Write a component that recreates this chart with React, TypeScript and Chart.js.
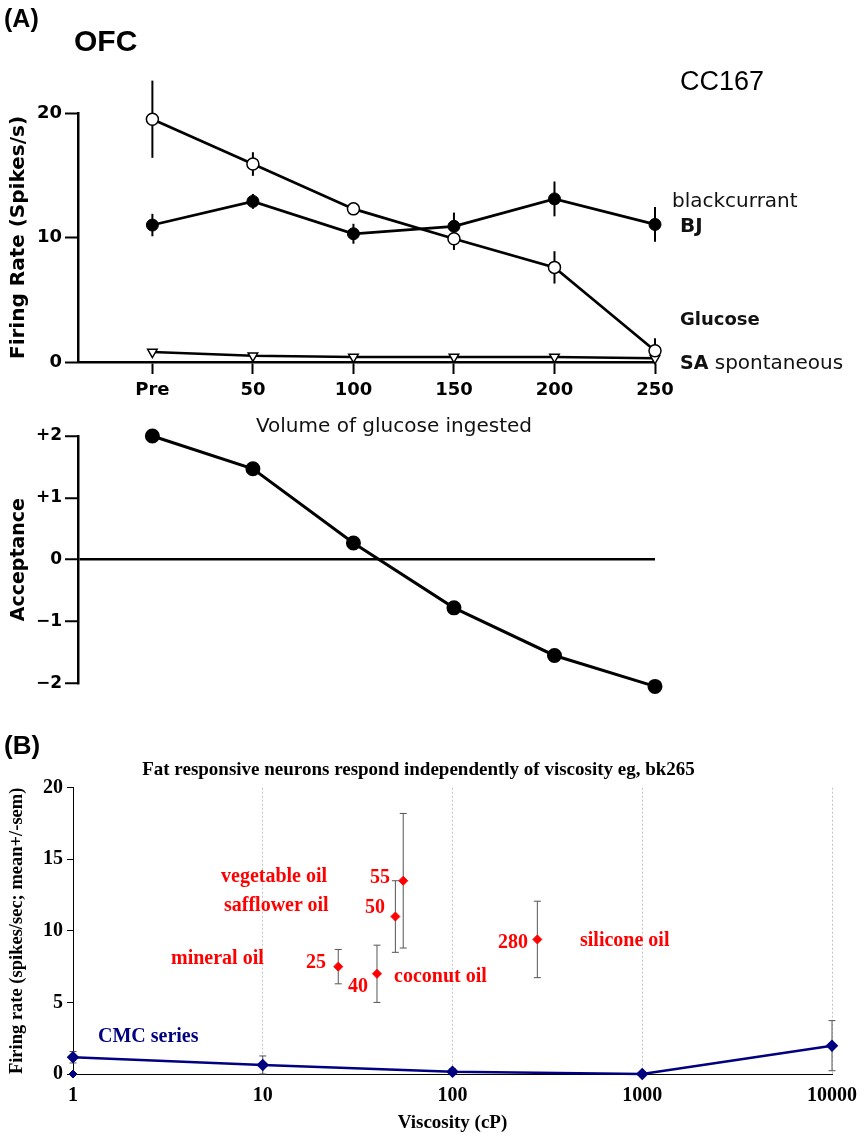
import React, { useEffect, useRef } from 'react';
import { Chart, registerables } from 'chart.js';

Chart.register(...registerables);

// ---------- Panel A data ----------
const volumeLabels = ['Pre', '50', '100', '150', '200', '250'];
const volumePositions = [0, 50, 100, 150, 200, 250];
const glucoseRate = [19.5, 15.9, 12.3, 9.9, 7.6, 0.9];
const glucoseSem = [3.1, 0.95, 0.5, 0.9, 1.3, 1.0];
const blackcurrantRate = [11.0, 12.9, 10.3, 10.9, 13.1, 11.05];
const blackcurrantSem = [0.9, 0.6, 0.8, 1.1, 1.4, 1.4];
const spontaneousRate = [0.8, 0.5, 0.4, 0.4, 0.4, 0.3];
const acceptanceScore = [2.0, 1.47, 0.27, -0.78, -1.55, -2.05];
const firingTicks = [0, 10, 20];
const acceptanceTicks = [-2, -1, 0, 1, 2];

// ---------- Panel B data ----------
const oilViscosity = [25, 40, 50, 55, 280];
const oilRate = [7.5, 7.0, 11.0, 13.5, 9.4];
const oilSem = [1.2, 2.0, 2.5, 4.7, 2.67];
const cmcViscosity = [1, 10, 100, 1000, 10000];
const cmcRate = [1.17, 0.63, 0.16, 0.0, 1.98];
const cmcSem = [0.4, 0.63, 0.2, 0, 1.75];
const baselineViscosity = [1];
const baselineRate = [0];
const viscosityTicks = [1, 10, 100, 1000, 10000];
const rateTicksB = [0, 5, 10, 15, 20];

const errorBarPlugin = {
  id: 'errorBars',
  beforeDatasetsDraw(chart: any) {
    const ctx = chart.ctx;
    chart.data.datasets.forEach((ds: any, i: number) => {
      const errs = ds.errorBars;
      if (!errs) return;
      const meta = chart.getDatasetMeta(i);
      const xs = chart.scales[meta.xAxisID];
      const ys = chart.scales[meta.yAxisID];
      const cap = ds.errorCap || 0;
      ctx.save();
      ctx.strokeStyle = ds.errorColor || '#000';
      ctx.lineWidth = ds.errorWidth || 1;
      ds.data.forEach((p: any, j: number) => {
        const e = errs[j];
        if (!e) return;
        const x = xs.getPixelForValue(p.x);
        const y1 = ys.getPixelForValue(p.y + e);
        const y2 = ys.getPixelForValue(p.y - e);
        ctx.beginPath();
        ctx.moveTo(x, y1);
        ctx.lineTo(x, y2);
        if (cap) {
          ctx.moveTo(x - cap, y1);
          ctx.lineTo(x + cap, y1);
          ctx.moveTo(x - cap, y2);
          ctx.lineTo(x + cap, y2);
        }
        ctx.stroke();
      });
      ctx.restore();
    });
  },
};

const sans = 'DejaVu Sans';
const serif = 'Liberation Serif';

function pts(xs: number[], ys: number[]) {
  return xs.map((x, i) => ({ x, y: ys[i] }));
}

function Label(props: any) {
  const { x, y, children, style, center } = props;
  return (
    <div
      style={{
        position: 'absolute',
        left: x,
        top: y,
        transform: center ? 'translate(-50%, -50%)' : 'translateY(-50%)',
        lineHeight: 1,
        whiteSpace: 'nowrap',
        ...style,
      }}
    >
      {children}
    </div>
  );
}

export default function App() {
  const c1 = useRef<HTMLCanvasElement>(null);
  const c2 = useRef<HTMLCanvasElement>(null);
  const c3 = useRef<HTMLCanvasElement>(null);

  useEffect(() => {
    const black = '#000';
    const tickFontA = { family: sans, size: 18, weight: 'bold' as const };

    const top = new Chart(c1.current as HTMLCanvasElement, {
      type: 'line',
      data: {
        datasets: [
          {
            label: 'Glucose',
            data: pts(volumePositions, glucoseRate),
            borderColor: black,
            borderWidth: 2.7,
            pointStyle: 'circle',
            pointRadius: 6,
            pointBackgroundColor: '#fff',
            pointBorderColor: black,
            pointBorderWidth: 1.5,
            clip: false,
            errorBars: glucoseSem,
            errorColor: black,
            errorWidth: 2,
          } as any,
          {
            label: 'blackcurrant BJ',
            data: pts(volumePositions, blackcurrantRate),
            borderColor: black,
            borderWidth: 2.7,
            pointStyle: 'circle',
            pointRadius: 6,
            pointBackgroundColor: black,
            pointBorderColor: black,
            pointBorderWidth: 1,
            clip: false,
            errorBars: blackcurrantSem,
            errorColor: black,
            errorWidth: 2,
          } as any,
          {
            label: 'SA spontaneous',
            data: pts(volumePositions, spontaneousRate),
            borderColor: black,
            borderWidth: 2.5,
            pointStyle: 'triangle',
            rotation: 180,
            pointRadius: 5.5,
            pointBackgroundColor: '#fff',
            pointBorderColor: black,
            pointBorderWidth: 1.5,
            clip: false,
          } as any,
        ],
      },
      options: {
        animation: false,
        responsive: false,
        layout: { padding: { top: 113, left: 0, right: 212, bottom: 0 } },
        plugins: { legend: { display: false }, tooltip: { enabled: false } },
        scales: {
          x: {
            type: 'linear',
            min: -37,
            max: 250,
            afterBuildTicks: (s: any) => {
              s.ticks = volumePositions.map((v) => ({ value: v }));
            },
            afterFit: (s: any) => {
              s.height = 58;
            },
            ticks: {
              callback: (_v: any, i: number) => volumeLabels[i],
              autoSkip: false,
              maxRotation: 0,
              font: tickFontA,
              color: black,
              padding: 6,
            },
            grid: { drawOnChartArea: false, tickLength: 12, tickWidth: 2, tickColor: black },
            border: { color: black, width: 2.5 },
          },
          y: {
            min: 0,
            max: 20,
            afterBuildTicks: (s: any) => {
              s.ticks = firingTicks.map((v) => ({ value: v }));
            },
            afterFit: (s: any) => {
              s.width = 78;
            },
            ticks: { font: tickFontA, color: black, padding: 3 },
            grid: { drawOnChartArea: false, tickLength: 13, tickWidth: 2, tickColor: black },
            border: { color: black, width: 2.5 },
            title: {
              display: true,
              text: 'Firing Rate (Spikes/s)',
              color: black,
              font: { family: sans, size: 20, weight: 'bold' },
              padding: { top: 7, bottom: 0 },
            },
          },
        },
      } as any,
      plugins: [errorBarPlugin],
    });

    const bottom = new Chart(c2.current as HTMLCanvasElement, {
      type: 'line',
      data: {
        datasets: [
          {
            label: 'Acceptance',
            data: pts(volumePositions, acceptanceScore),
            borderColor: black,
            borderWidth: 3,
            pointStyle: 'circle',
            pointRadius: 6,
            pointBackgroundColor: black,
            pointBorderColor: black,
            clip: false,
          } as any,
        ],
      },
      options: {
        animation: false,
        responsive: false,
        layout: { padding: { top: 16, left: 0, right: 212, bottom: 36.7 } },
        plugins: { legend: { display: false }, tooltip: { enabled: false } },
        scales: {
          x: { type: 'linear', min: -37, max: 250, display: false },
          y: {
            min: -2,
            max: 2,
            afterBuildTicks: (s: any) => {
              s.ticks = acceptanceTicks.map((v) => ({ value: v }));
            },
            afterFit: (s: any) => {
              s.width = 78;
            },
            ticks: {
              callback: (v: number) => (v > 0 ? '+' + v : v < 0 ? '\u2212' + Math.abs(v) : '0'),
              font: { family: sans, size: 17, weight: 'bold' },
              color: black,
              padding: 3,
            },
            grid: {
              color: (c: any) => (c.tick && c.tick.value === 0 ? black : 'rgba(0,0,0,0)'),
              lineWidth: 2.5,
              tickLength: 13,
              tickWidth: 2,
              tickColor: black,
            },
            border: { color: black, width: 2.5 },
            title: {
              display: true,
              text: 'Acceptance',
              color: black,
              font: { family: sans, size: 19, weight: 'bold' },
              padding: { top: 8, bottom: 0 },
            },
          },
        },
      } as any,
    });

    const serifBold = (size: number) => ({ family: serif, size, weight: 'bold' as const });
    const navy = '#000080';
    const panelB = new Chart(c3.current as HTMLCanvasElement, {
      type: 'line',
      data: {
        datasets: [
          {
            label: 'Oils',
            data: pts(oilViscosity, oilRate),
            showLine: false,
            pointStyle: 'rectRot',
            pointRadius: 4.5,
            pointBackgroundColor: '#ff0000',
            pointBorderColor: '#ff0000',
            borderColor: '#ff0000',
            clip: false,
            errorBars: oilSem,
            errorColor: '#555',
            errorWidth: 1,
            errorCap: 3.5,
          } as any,
          {
            label: 'baseline',
            data: pts(baselineViscosity, baselineRate),
            showLine: false,
            pointStyle: 'rectRot',
            pointRadius: 4,
            pointBackgroundColor: navy,
            pointBorderColor: navy,
            borderColor: navy,
            clip: false,
          } as any,
          {
            label: 'CMC series',
            data: pts(cmcViscosity, cmcRate),
            borderColor: navy,
            borderWidth: 2.5,
            pointStyle: 'rectRot',
            pointRadius: 4.5,
            pointBackgroundColor: navy,
            pointBorderColor: navy,
            clip: false,
            errorBars: cmcSem,
            errorColor: '#555',
            errorWidth: 1,
            errorCap: 3.5,
          } as any,
        ],
      },
      options: {
        animation: false,
        responsive: false,
        layout: { padding: { top: 0, left: 0, right: 30, bottom: 0 } },
        plugins: {
          legend: { display: false },
          tooltip: { enabled: false },
          title: {
            display: true,
            text: 'Fat responsive neurons respond independently of viscosity eg, bk265',
            color: black,
            font: serifBold(19),
            padding: { top: 38.6, bottom: 6.3 },
          },
        },
        scales: {
          x: {
            type: 'logarithmic',
            min: 1,
            max: 10000,
            afterBuildTicks: (s: any) => {
              s.ticks = viscosityTicks.map((v) => ({ value: v }));
            },
            afterFit: (s: any) => {
              s.height = 64;
            },
            ticks: {
              callback: (_v: any, i: number) => String(viscosityTicks[i]),
              autoSkip: false,
              maxRotation: 0,
              font: serifBold(20),
              color: black,
              padding: 10,
            },
            grid: {
              color: (c: any) => (c.tick && c.tick.value === 1 ? 'rgba(0,0,0,0)' : '#c4c4c4'),
              lineWidth: 1,
              drawTicks: false,
            },
            border: { color: black, width: 1, dash: [2, 2] },
            title: {
              display: true,
              text: 'Viscosity (cP)',
              color: black,
              font: serifBold(19),
              padding: { top: 0, bottom: 4 },
            },
          },
          y: {
            min: 0,
            max: 20,
            afterBuildTicks: (s: any) => {
              s.ticks = rateTicksB.map((v) => ({ value: v }));
            },
            afterFit: (s: any) => {
              s.width = 73;
            },
            ticks: { font: serifBold(20), color: black, padding: 4 },
            grid: { drawOnChartArea: false, tickLength: 6, tickWidth: 1, tickColor: black },
            border: { color: black, width: 1 },
            title: {
              display: true,
              text: 'Firing rate (spikes/sec; mean+/-sem)',
              color: black,
              font: serifBold(18.5),
              padding: { top: 6, bottom: 0 },
            },
          },
        },
      } as any,
      plugins: [errorBarPlugin],
    });

    return () => {
      top.destroy();
      bottom.destroy();
      panelB.destroy();
    };
  }, []);

  const aSans = { fontFamily: sans, color: '#111' };
  const bSerif = { fontFamily: serif, fontWeight: 'bold', fontSize: 20, color: '#ff0000' };

  return (
    <div
      style={{
        position: 'absolute',
        left: 0,
        top: 0,
        width: 867,
        height: 1138,
        background: '#fff',
        overflow: 'hidden',
      }}
    >
      <canvas ref={c1} width={867} height={420} style={{ position: 'absolute', left: 0, top: 0 }} />
      <canvas ref={c2} width={867} height={300} style={{ position: 'absolute', left: 0, top: 420 }} />
      <canvas ref={c3} width={867} height={418} style={{ position: 'absolute', left: 0, top: 720 }} />

      <Label x={4} y={18} style={{ fontFamily: 'Liberation Sans', fontWeight: 'bold', fontSize: 25 }}>(A)</Label>
      <Label x={74} y={41} style={{ fontFamily: 'Liberation Sans', fontWeight: 'bold', fontSize: 30 }}>OFC</Label>
      <Label x={680} y={81} style={{ fontFamily: 'Liberation Sans', fontSize: 27 }}>CC167</Label>
      <Label x={672} y={200} style={{ ...aSans, fontSize: 20 }}>blackcurrant</Label>
      <Label x={680} y={225} style={{ ...aSans, fontSize: 20, fontWeight: 'bold' }}>BJ</Label>
      <Label x={680} y={319} style={{ ...aSans, fontSize: 18, fontWeight: 'bold' }}>Glucose</Label>
      <Label x={680} y={362} style={{ ...aSans, fontSize: 20 }}>
        <span style={{ fontWeight: 'bold', fontSize: 19 }}>SA</span> spontaneous
      </Label>
      <Label x={394} y={425} center style={{ ...aSans, fontSize: 20 }}>Volume of glucose ingested</Label>

      <Label x={4} y={745} style={{ fontFamily: 'Liberation Sans', fontWeight: 'bold', fontSize: 26 }}>(B)</Label>
      <Label x={221} y={875} style={bSerif}>vegetable oil</Label>
      <Label x={370} y={876} style={bSerif}>55</Label>
      <Label x={224} y={904} style={bSerif}>safflower oil</Label>
      <Label x={365} y={906} style={bSerif}>50</Label>
      <Label x={171} y={957} style={bSerif}>mineral oil</Label>
      <Label x={306} y={961} style={bSerif}>25</Label>
      <Label x={348} y={985} style={bSerif}>40</Label>
      <Label x={394} y={975} style={bSerif}>coconut oil</Label>
      <Label x={498} y={941} style={bSerif}>280</Label>
      <Label x={580} y={939} style={bSerif}>silicone oil</Label>
      <Label x={98} y={1035} style={{ ...bSerif, color: '#000080' }}>CMC series</Label>
    </div>
  );
}
